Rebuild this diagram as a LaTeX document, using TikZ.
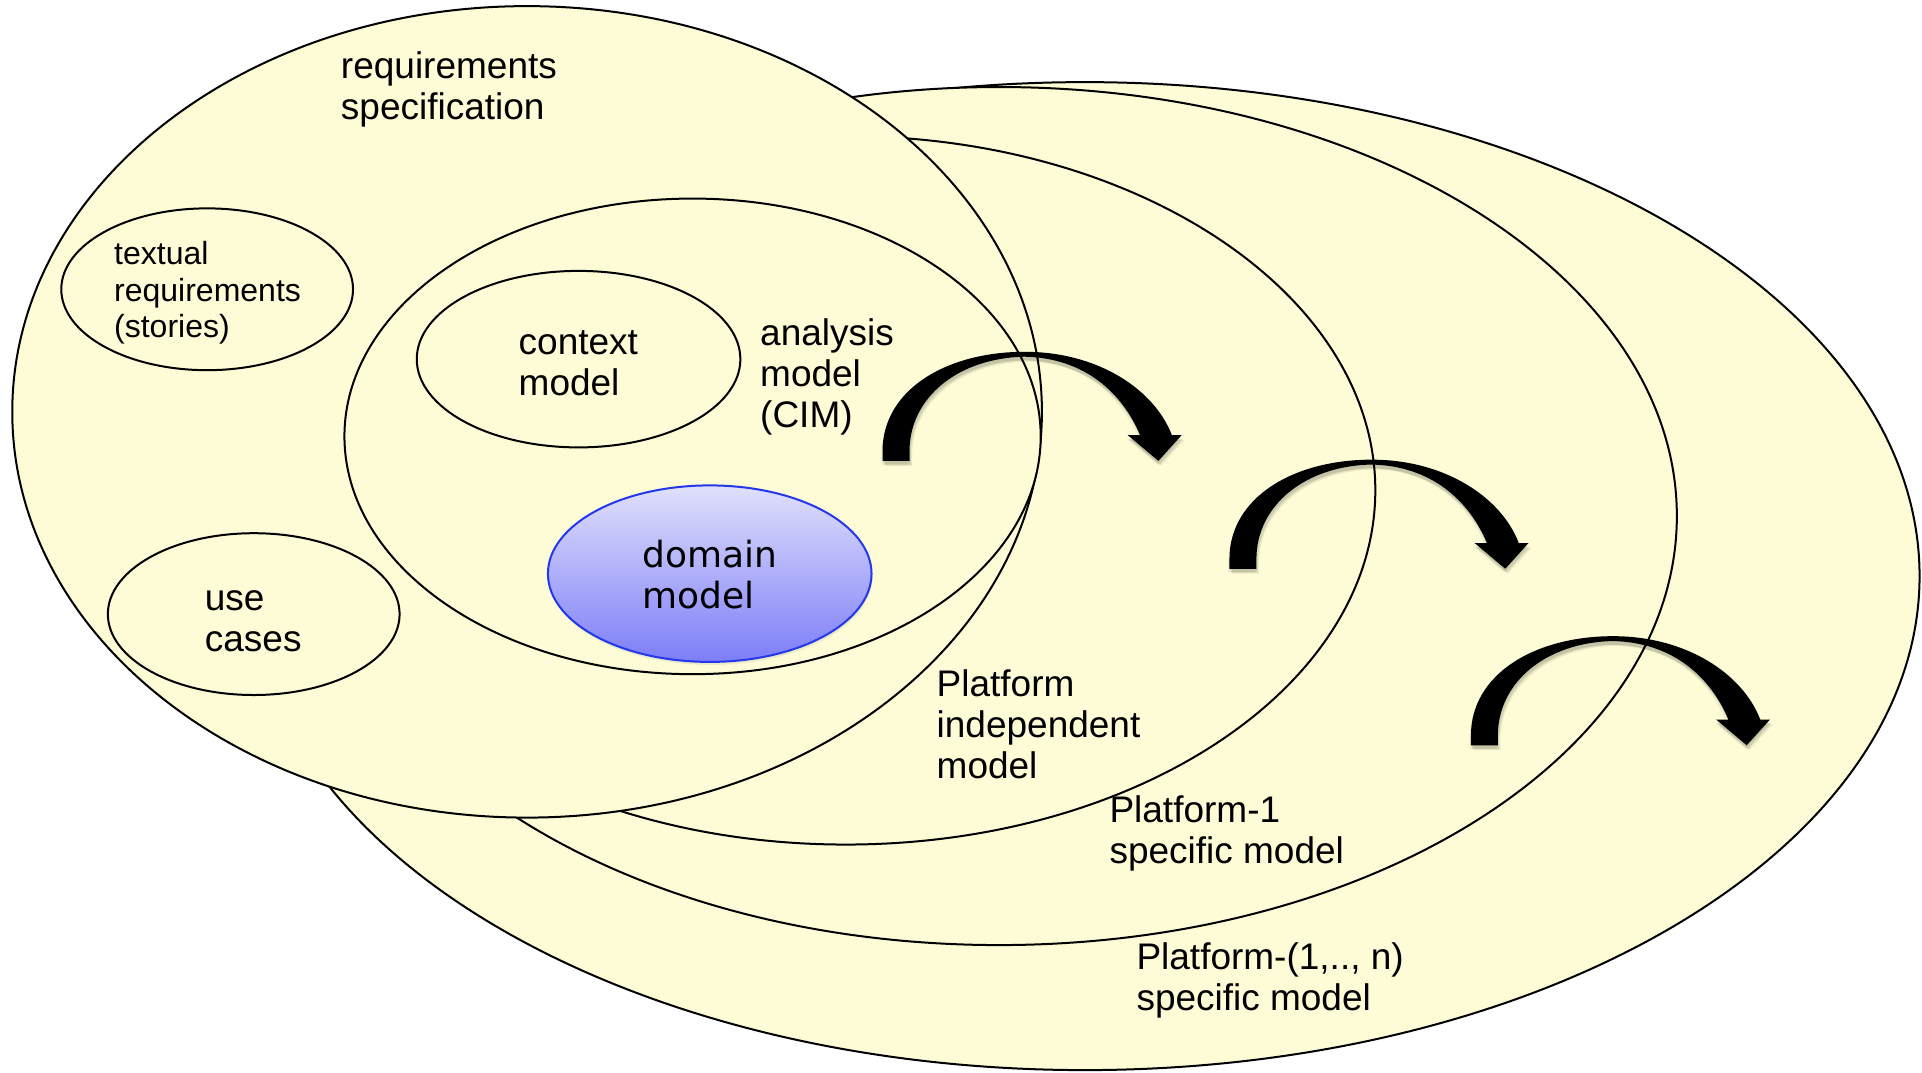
\documentclass[tikz,border=0pt]{standalone}
\usepackage{fontspec}
\setmainfont{Liberation Sans}
\newfontfamily\dejavu{DejaVu Sans}
\usetikzlibrary{shapes.geometric,shadows}
\definecolor{paleyellow}{RGB}{253,252,214}
\definecolor{dmtop}{RGB}{224,224,252}
\definecolor{dmbot}{RGB}{125,125,248}
\definecolor{dmline}{RGB}{35,55,235}
\newcommand\bentpath{(0,0) -- (0,-8) .. controls (0,-58) and (52,-89) .. (116,-89)
  .. controls (176,-89) and (222,-58) .. (236,-21) -- (244,-21) -- (225,0) -- (200,-21)
  -- (210,-21) .. controls (196,-55) and (165,-84) .. (116,-85)
  .. controls (62,-84) and (22,-52) .. (22,-8) -- (22,0) -- cycle}
\tikzset{
  elli/.style 2 args={ellipse, draw=black, line width=2pt, fill=paleyellow,
    inner sep=0pt, outer sep=0pt,
    minimum width={#1*2.4516pt}, minimum height={#2*2.4516pt}},
  lbl/.style={anchor=west, align=left, inner sep=0pt, text=black,
    font=\fontsize{37}{41}\selectfont},
  smalllbl/.style={anchor=west, align=left, inner sep=0pt, text=black,
    font=\fontsize{32}{36.6}\selectfont},
  bentarrow/.pic={
    \fill[black, opacity=0.10, shift={(1,3)}] \bentpath;
    \fill[black, opacity=0.08, shift={(2,4)}] \bentpath;
    \fill[black, opacity=0.06, shift={(-1,3)}] \bentpath;
    \fill[black] \bentpath;
  }
}
\begin{document}
\begin{tikzpicture}[x=1.2258pt, y=-1.2258pt]
\useasboundingbox (0,0) rectangle (1568,875.35);
% big ellipses (back to front)
\node[elli={681}{403}] (psn) at (885,470) {};
\node[elli={553}{350}] (p1) at (815,421) {};
\node[elli={432}{289}] (pim) at (690,400) {};
\node[elli={420}{331}] (req) at (430,336) {};
\node[elli={284}{194}] (cim) at (565,356) {};
\node[elli={119}{66}] (txt) at (169,236) {};
\node[elli={119}{66}] (uc) at (207,501) {};
\node[elli={132}{72}] (ctx) at (472,293) {};
\node[elli={132}{72}, draw=dmline, top color=dmtop, bottom color=dmbot,
  drop shadow={opacity=0.15, shadow xshift=1pt, shadow yshift=-3pt}] (dom) at (579,468) {};
% curved arrows
\pic at (720,376) {bentarrow};
\pic at (1003,464) {bentarrow};
\pic at (1200,608) {bentarrow};
% labels
\node[lbl] (treq) at (278,73) {requirements\\specification};
\node[smalllbl] (ttxt) at (93,239) {textual\\requirements\\(stories)};
\node[lbl] (tctx) at (423,296.5) {context\\model};
\node[lbl] (tcim) at (620,307.5) {analysis\\model\\(CIM)};
\node[lbl, font=\dejavu\fontsize{36}{41}\selectfont] (tdom) at (524,469) {domain\\model};
\node[lbl] (tuc) at (167,506.5) {use\\cases};
\node[lbl] (tpim) at (764,590.5) {Platform\\independent\\model};
\node[lbl] (tp1) at (905,680) {Platform-1\\specific model};
\node[lbl] (tpn) at (927,800) {Platform-(1,.., n)\\specific model};
\end{tikzpicture}
\end{document}
